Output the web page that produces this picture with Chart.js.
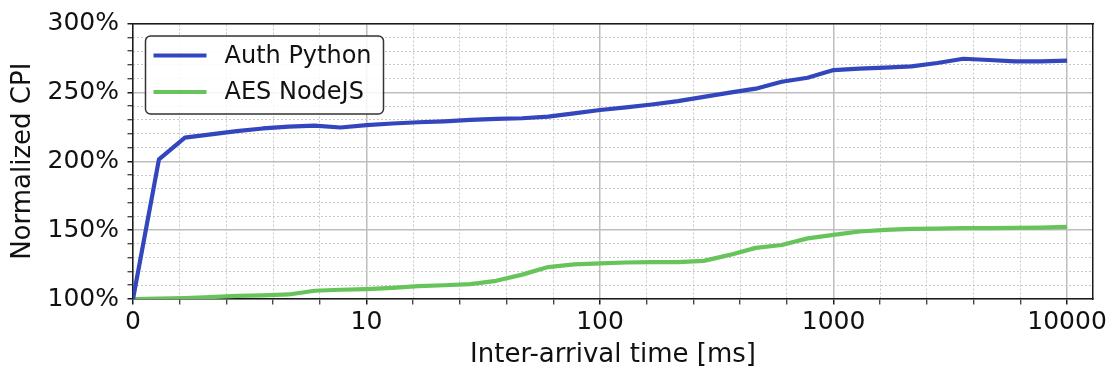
<!DOCTYPE html>
<html>
<head>
<meta charset="utf-8">
<script src="https://cdn.jsdelivr.net/npm/chart.js@4.4.1/dist/chart.umd.min.js"></script>
<style>
    html, body { margin: 0; padding: 0; background: #fff; }
    #wrap { width: 1112px; height: 371px; }
</style>
</head>
<body>
<div id="wrap"><canvas id="grafico"></canvas></div>
<script>
// sample index along the x axis (9 samples per decade, index 0 is labelled "0")
const sampleIndex = [0, 1, 2, 3, 4, 5, 6, 7, 8, 9, 10, 11, 12, 13, 14, 15, 16, 17, 18,
    19, 20, 21, 22, 23, 24, 25, 26, 27, 28, 29, 30, 31, 32, 33, 34, 35, 36];

// normalized CPI in percent
const authPython = [100, 201.3, 217.1, 219.5, 221.9, 223.8, 225.2, 225.9, 224.5, 226.2,
    227.4, 228.3, 229.0, 230.0, 230.7, 231.2, 232.4, 234.8, 237.2, 239.1, 241.2, 243.6,
    246.7, 249.8, 252.7, 257.7, 260.6, 266.2, 267.2, 268.0, 268.9, 271.3, 274.4, 273.5,
    272.5, 272.5, 273.0];
const aesNodeJS = [100, 100.3, 100.7, 101.4, 102.2, 102.6, 103.3, 106.0, 106.7, 107.2,
    108.1, 109.3, 110.0, 110.8, 113.2, 117.7, 123.2, 125.1, 125.8, 126.5, 126.8, 126.8,
    127.7, 132.0, 137.1, 139.2, 144.0, 146.5, 149.0, 150.2, 150.9, 151.1, 151.4, 151.4,
    151.6, 151.8, 152.3];

const seriesNames = ['Auth Python', 'AES NodeJS'];

const xTickPos = [0, 9, 18, 27, 36];
const xTickLabels = ['0', '10', '100', '1000', '10000'];
const yTickPos = [100, 150, 200, 250, 300];
const yTickLabels = ['100%', '150%', '200%', '250%', '300%'];

const FONT = 'DejaVu Sans';
const GRID_MAJOR = '#bdbdbd';
const GRID_MINOR = '#c8c8c8';
const FRAME = '#1a1a1a';

// minor ticks: every major interval split in 5
function minorX(withMajor) {
    const out = [];
    for (let i = 0; i < xTickPos.length; i++) {
        const step = 9 / 5;
        for (let j = 0; j < 5; j++) {
            if (j === 0 && !withMajor) continue;
            const v = xTickPos[i] + j * step;
            if (v <= 37) out.push(v);
        }
    }
    return out;
}
function minorY(withMajor) {
    const out = [];
    for (let v = 100; v <= 300; v += 10) {
        if (!withMajor && v % 50 === 0) continue;
        out.push(v);
    }
    return out;
}
const isMajorX = v => xTickPos.indexOf(v) !== -1;
const isMajorY = v => yTickPos.indexOf(v) !== -1;

const legendBox = {
    id: 'legendBox',
    afterDatasetsDraw(chart) {
        const { ctx, chartArea } = chart;
        const x = chartArea.left + 12.5;
        const y = chartArea.top + 12.5;
        const w = 238, h = 78;
        ctx.save();
        ctx.beginPath();
        ctx.roundRect(x, y, w, h, 5);
        ctx.fillStyle = 'rgba(255,255,255,0.85)';
        ctx.fill();
        ctx.lineWidth = 1.5;
        ctx.strokeStyle = '#333';
        ctx.stroke();
        chart.data.datasets.forEach((ds, i) => {
            const cy = y + 19.5 + i * 36.6;
            ctx.beginPath();
            ctx.moveTo(x + 8, cy);
            ctx.lineTo(x + 61, cy);
            ctx.lineWidth = 4;
            ctx.strokeStyle = ds.borderColor;
            ctx.stroke();
            ctx.fillStyle = '#111';
            ctx.font = '24px "' + FONT + '"';
            ctx.textBaseline = 'middle';
            ctx.fillText(ds.label, x + 79, cy + 1);
        });
        ctx.restore();
    }
};

const toPoints = arr => arr.map((v, i) => ({ x: sampleIndex[i], y: v }));

new Chart(document.getElementById('grafico'), {
    type: 'line',
    data: {
        datasets: [
            {
                label: seriesNames[0],
                data: toPoints(authPython),
                borderColor: '#3346bd',
                borderWidth: 4.2,
                pointRadius: 0,
                borderJoinStyle: 'round',
                fill: false,
                tension: 0
            },
            {
                label: seriesNames[1],
                data: toPoints(aesNodeJS),
                borderColor: '#66c45b',
                borderWidth: 4.2,
                pointRadius: 0,
                borderJoinStyle: 'round',
                fill: false,
                tension: 0
            }
        ]
    },
    options: {
        responsive: true,
        maintainAspectRatio: false,
        animation: false,
        layout: { padding: 0 },
        plugins: {
            legend: { display: false },
            tooltip: { enabled: false }
        },
        scales: {
            x: {
                type: 'linear',
                position: 'bottom',
                min: 0,
                max: 37,
                afterBuildTicks: s => { s.ticks = minorX(true).map(v => ({ value: v })); },
                afterFit: s => { s.height = 72; },
                ticks: {
                    autoSkip: false,
                    maxRotation: 0,
                    padding: 3,
                    color: '#111',
                    font: { family: FONT, size: 25 },
                    callback: v => isMajorX(v) ? xTickLabels[xTickPos.indexOf(v)] : ''
                },
                grid: {
                    color: c => (c.tick && isMajorX(c.tick.value)) ? GRID_MAJOR : 'rgba(0,0,0,0)',
                    lineWidth: 1.5,
                    tickColor: FRAME,
                    tickLength: 5.5,
                    tickWidth: c => (c.tick && isMajorX(c.tick.value)) ? 1.5 : 1.1
                },
                border: { color: FRAME, width: 1.5 },
                title: {
                    display: true,
                    text: 'Inter-arrival time [ms]',
                    color: '#111',
                    font: { family: FONT, size: 26 },
                    padding: { top: 0, bottom: 0 }
                }
            },
            xMinor: {
                type: 'linear',
                position: 'top',
                min: 0,
                max: 37,
                afterBuildTicks: s => { s.ticks = minorX(false).map(v => ({ value: v })); },
                afterFit: s => { s.height = 20; },
                ticks: { display: false },
                grid: { color: GRID_MINOR, lineWidth: 1, drawTicks: false },
                border: { color: FRAME, width: 1.5, dash: [2, 2] }
            },
            y: {
                type: 'linear',
                position: 'left',
                min: 100,
                max: 300,
                afterBuildTicks: s => { s.ticks = minorY(true).map(v => ({ value: v })); },
                afterFit: s => { s.width = 133; },
                ticks: {
                    autoSkip: false,
                    padding: 8.5,
                    color: '#111',
                    font: { family: FONT, size: 25 },
                    callback: v => isMajorY(v) ? yTickLabels[yTickPos.indexOf(v)] : ''
                },
                grid: {
                    color: c => (c.tick && isMajorY(c.tick.value)) ? GRID_MAJOR : 'rgba(0,0,0,0)',
                    lineWidth: 1.5,
                    tickColor: FRAME,
                    tickLength: 5.5,
                    tickWidth: c => (c.tick && isMajorY(c.tick.value)) ? 1.5 : 1.1
                },
                border: { color: FRAME, width: 1.5 },
                title: {
                    display: true,
                    text: 'Normalized CPI',
                    color: '#111',
                    font: { family: FONT, size: 26 },
                    padding: { top: 8, bottom: 0 }
                }
            },
            yMinor: {
                type: 'linear',
                position: 'right',
                min: 100,
                max: 300,
                afterBuildTicks: s => { s.ticks = minorY(false).map(v => ({ value: v })); },
                afterFit: s => { s.width = 19; },
                ticks: { display: false },
                grid: { color: GRID_MINOR, lineWidth: 1, drawTicks: false },
                border: { color: FRAME, width: 1.5, dash: [2, 2] }
            }
        }
    },
    plugins: [legendBox]
});
</script>
</body>
</html>
